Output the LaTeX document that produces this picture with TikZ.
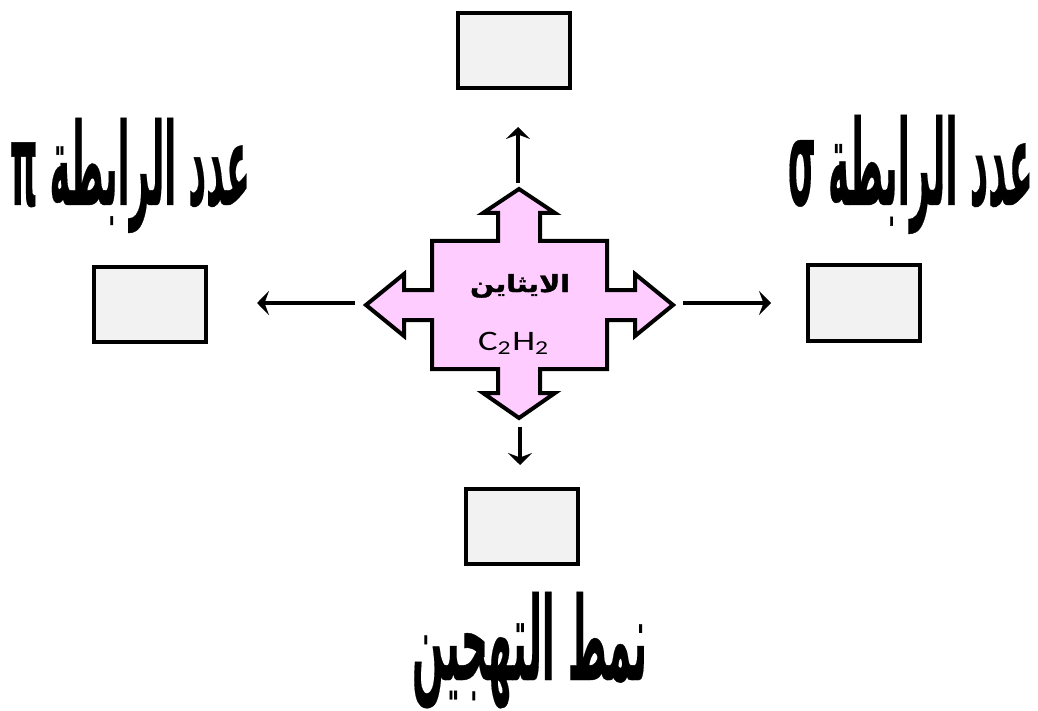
\documentclass[tikz,border=0pt]{standalone}
\usepackage{fontspec}
\usepackage{graphicx}
\usetikzlibrary{arrows.meta}
\TeXXeTstate=1
\newfontfamily\arabicbig[Script=Arabic, FakeBold=0.4]{DejaVu Sans Bold}
\newfontfamily\arabicsmall[Script=Arabic, FakeBold=1.5]{DejaVu Sans Bold}
\newfontfamily\latinsans{Carlito}
\definecolor{pinkfill}{RGB}{255,204,255}
\definecolor{boxfill}{RGB}{242,242,242}
\newcommand\fitto[3]{\resizebox{#1}{#2}{#3}}
\begin{document}
\begin{tikzpicture}[x=1pt,y=-1pt,
  answerbox/.style={draw=black, line width=4pt, fill=boxfill, minimum width=112pt, minimum height=75pt, inner sep=0pt},
  conn/.style={line width=3.2pt, -{Stealth[length=12pt,width=24pt,inset=4.5pt]}},
  lbl/.style={inner sep=0pt, anchor=base},
  hub/.style={draw=black, line width=4pt, fill=pinkfill, line join=miter}]
\useasboundingbox[fill=white] (0,0) rectangle (1038,711);

% central four-way arrow
\draw[hub] (519,189) -- (555,213) -- (540,213) -- (540,241) -- (607,241) -- (607,290) -- (635,290) -- (635,274) -- (673,305) -- (635,336) -- (635,320) -- (607,320) -- (607,369) -- (540,369) -- (540,393) -- (555,393) -- (519,418) -- (483,393) -- (498,393) -- (498,369) -- (432,369) -- (432,320) -- (404,320) -- (404,336) -- (366,305) -- (404,274) -- (404,290) -- (432,290) -- (432,241) -- (498,241) -- (498,213) -- (483,213) -- cycle;

\node[lbl] (ethyne) at (520,292) {\fitto{100pt}{18pt}{\arabicsmall\beginR الايثاين\endR}};
\node[lbl] (formula) at (514,350) {\fitto{72pt}{18.3pt}{\latinsans C\textsubscript{2}H\textsubscript{2}}};

% answer boxes
\node[answerbox] (topbox) at (513.5,51) {};
\node[answerbox] (leftbox) at (150,304.5) {};
\node[answerbox] (rightbox) at (863.5,303) {};
\node[answerbox] (bottombox) at (521.5,526.5) {};

% connectors
\coordinate (tstart) at (518,183); \coordinate (tend) at (518,127);
\coordinate (lstart) at (355,303); \coordinate (lend) at (257,303);
\coordinate (rstart) at (683,303); \coordinate (rend) at (771,303);
\coordinate (bstart) at (520,427); \coordinate (bend) at (520,465);
\draw[conn] (tstart) -- (tend);
\draw[conn] (lstart) -- (lend);
\draw[conn] (rstart) -- (rend);
\draw[conn] (bstart) -- (bend);

% labels
\node[lbl] (pilabel) at (130,205) {\fitto{240pt}{87pt}{\arabicbig\beginR عدد الرابطة π\endR}};
\node[lbl] (sigmalabel) at (910.5,205) {\fitto{245pt}{90pt}{\arabicbig\beginR عدد الرابطة σ\endR}};
\node[lbl] (hyblabel) at (529.5,680) {\fitto{235pt}{88pt}{\arabicbig\beginR نمط التهجين\endR}};
\end{tikzpicture}
\end{document}
